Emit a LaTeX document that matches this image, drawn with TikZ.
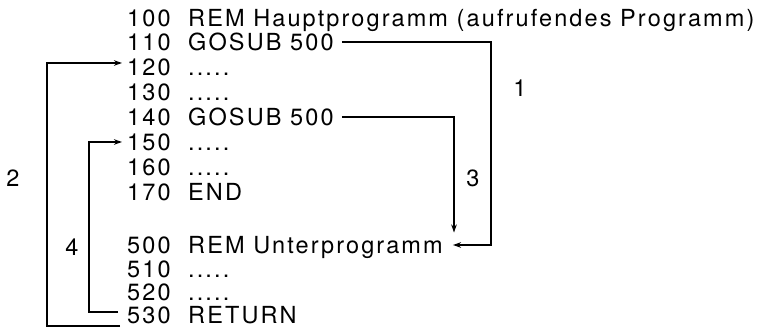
\documentclass[tikz,border=0pt]{standalone}
\usepackage{fontspec}
\usepackage{tikz}
\usetikzlibrary{arrows.meta, positioning, calc}
\newfontfamily\basicfont[LetterSpace=9]{TeX Gyre Heros}

\begin{document}
\begin{tikzpicture}[
        x=1pt, y=-1pt,
        zeile/.style={anchor=west,inner sep=0pt,text height=16.5pt,text depth=0pt,font=\basicfont\fontsize{23.5}{25}\selectfont},
        marke/.style={inner sep=0pt,font=\basicfont\fontsize{23.5}{25}\selectfont},
        sprung/.style={-{Stealth[length=8pt,width=5.5pt]},line width=1.4pt}
    ]
        \useasboundingbox (0,0) rectangle (765,328);

        \node[zeile] (z100) at (127,18)  {\makebox[61pt][l]{100}REM Hauptprogramm (aufrufendes Programm)};
        \node[zeile] (z110) at (127,42)  {\makebox[61pt][l]{110}GOSUB 500};
        \node[zeile] (z120) at (127,67)  {\makebox[61pt][l]{120}.....};
        \node[zeile] (z130) at (127,92)  {\makebox[61pt][l]{130}.....};
        \node[zeile] (z140) at (127,117) {\makebox[61pt][l]{140}GOSUB 500};
        \node[zeile] (z150) at (127,142) {\makebox[61pt][l]{150}.....};
        \node[zeile] (z160) at (127,167) {\makebox[61pt][l]{160}.....};
        \node[zeile] (z170) at (127,192) {\makebox[61pt][l]{170}END};
        \node[zeile] (z500) at (127,245) {\makebox[61pt][l]{500}REM Unterprogramm};
        \node[zeile] (z510) at (127,269) {\makebox[61pt][l]{510}.....};
        \node[zeile] (z520) at (127,292) {\makebox[61pt][l]{520}.....};
        \node[zeile] (z530) at (127,315) {\makebox[61pt][l]{530}RETURN};

        \coordinate (k1) at (491,100);
        \coordinate (k3) at (454,180);
        \coordinate (k2) at (47,190);
        \coordinate (k4) at (89,230);

        \draw[sprung] ([xshift=8pt]z110.east) -| (k1) |- ([xshift=10pt]z500.east);
        \draw[sprung] ([xshift=8pt]z140.east) -| ([yshift=4pt]z500.north -| k3);
        \draw[sprung] ([xshift=-7pt,yshift=-11pt]z530.west) -| (k2) |- ([xshift=-5pt,yshift=4pt]z120.west);
        \draw[sprung] ([xshift=-9pt,yshift=3pt]z530.west) -| (k4) |- ([xshift=-5pt]z150.west);

        \node[marke] (m1) at (520,88)  {1};
        \node[marke] (m2) at (13,178)  {2};
        \node[marke] (m3) at (473,178) {3};
        \node[marke] (m4) at (72,247)  {4};
    \end{tikzpicture}
\end{document}
